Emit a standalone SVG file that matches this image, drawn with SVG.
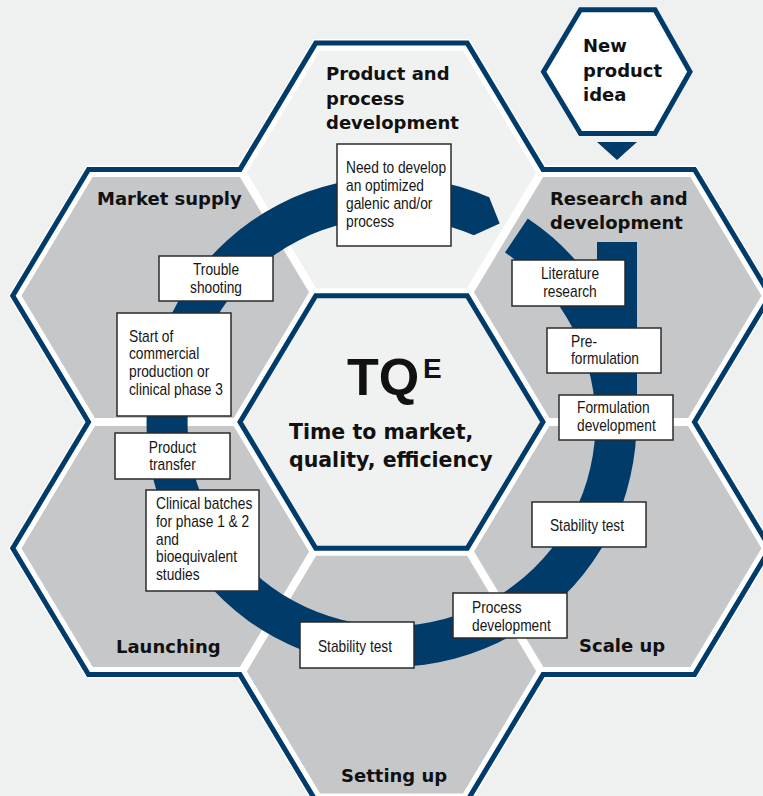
<svg xmlns="http://www.w3.org/2000/svg" width="763" height="796" viewBox="0 0 763 796">
<style>
.grey{fill:#c6c7c9;stroke:#fff;stroke-width:8;stroke-linejoin:miter}
.light{fill:#f0f1f1;stroke:#fff;stroke-width:8;stroke-linejoin:miter}
.ttl{font-family:"DejaVu Sans","Liberation Sans",sans-serif;font-weight:bold;font-size:18px;fill:#111}
.ctr{font-family:"DejaVu Sans","Liberation Sans",sans-serif;font-weight:bold;font-size:20.5px;fill:#111}
.tq{font-family:"Liberation Sans",Arial,sans-serif;font-weight:bold;fill:#111}
.box{fill:#fff;stroke:#2b2b2b;stroke-width:1.5}
.bt{font-family:"Liberation Sans",Arial,sans-serif;font-size:16px;fill:#161616}
.navy{fill:#003b6a}
</style>
<defs>
<clipPath id="clipS"><path d="M315.75,43.1 L467.25,43.1 L543,169.4 L694.5,169.4 L770.25,295.7 L694.5,422 L770.25,548.3 L694.5,674.6 L543,674.6 L467.25,800.9 L315.75,800.9 L240,674.6 L88.5,674.6 L12.75,548.3 L88.5,422 L12.75,295.7 L88.5,169.4 L240,169.4 Z"/></clipPath>
</defs>
<rect x="0" y="0" width="763" height="796" fill="#eff0f0"/>
<path d="M315.75,43.1 L467.25,43.1 L543,169.4 L694.5,169.4 L770.25,295.7 L694.5,422 L770.25,548.3 L694.5,674.6 L543,674.6 L467.25,800.9 L315.75,800.9 L240,674.6 L88.5,674.6 L12.75,548.3 L88.5,422 L12.75,295.7 L88.5,169.4 L240,169.4 Z" fill="#fff"/>

<g id="hex-product-process">
<polygon class="light" points="240,169.4 315.75,43.1 467.25,43.1 543,169.4 467.25,295.7 315.75,295.7"/>
<text class="ttl" x="326" y="80">Product and</text>
<text class="ttl" x="326" y="104.5">process</text>
<text class="ttl" x="326" y="129">development</text>
</g>
<g id="hex-research">
<polygon class="grey" points="467.25,295.7 543,169.4 694.5,169.4 770.25,295.7 694.5,422 543,422"/>
<text class="ttl" x="550" y="205">Research and</text>
<text class="ttl" x="550" y="229">development</text>
</g>
<g id="hex-scale-up">
<polygon class="grey" points="467.25,548.3 543,422 694.5,422 770.25,548.3 694.5,674.6 543,674.6"/>
<text class="ttl" x="579" y="652">Scale up</text>
</g>
<g id="hex-setting-up">
<polygon class="grey" points="240,674.6 315.75,548.3 467.25,548.3 543,674.6 467.25,800.9 315.75,800.9"/>
<text class="ttl" x="341" y="782">Setting up</text>
</g>
<g id="hex-launching">
<polygon class="grey" points="12.75,548.3 88.5,422 240,422 315.75,548.3 240,674.6 88.5,674.6"/>
<text class="ttl" x="116" y="652.5">Launching</text>
</g>
<g id="hex-market-supply">
<polygon class="grey" points="12.75,295.7 88.5,169.4 240,169.4 315.75,295.7 240,422 88.5,422"/>
<text class="ttl" x="97" y="205">Market supply</text>
</g>

<g id="frame">
<path d="M315.75,43.1 L467.25,43.1 L543,169.4 L694.5,169.4 L770.25,295.7 L694.5,422 L770.25,548.3 L694.5,674.6 L543,674.6 L467.25,800.9 L315.75,800.9 L240,674.6 L88.5,674.6 L12.75,548.3 L88.5,422 L12.75,295.7 L88.5,169.4 L240,169.4 Z" fill="none" stroke="#fff" stroke-width="15" clip-path="url(#clipS)"/>
<path d="M315.75,43.1 L467.25,43.1 L543,169.4 L694.5,169.4 L770.25,295.7 L694.5,422 L770.25,548.3 L694.5,674.6 L543,674.6 L467.25,800.9 L315.75,800.9 L240,674.6 L88.5,674.6 L12.75,548.3 L88.5,422 L12.75,295.7 L88.5,169.4 L240,169.4 Z" fill="none" stroke="#003b6a" stroke-width="5"/>
</g>

<g id="hex-center">
<polygon points="240,422 315.75,295.7 467.25,295.7 543,422 467.25,548.3 315.75,548.3" fill="none" stroke="#fff" stroke-width="15"/>
<polygon points="240,422 315.75,295.7 467.25,295.7 543,422 467.25,548.3 315.75,548.3" fill="#f0f1f1" stroke="#003b6a" stroke-width="5"/>
<text class="tq" x="347" y="395" font-size="52">TQ</text>
<text class="tq" x="423" y="378" font-size="28">E</text>
<text class="ctr" x="289" y="439">Time to market,</text>
<text class="ctr" x="289" y="466.5">quality, efficiency</text>
</g>

<g id="new-product-idea">
<polygon points="543.5,71.7 580.5,9.8 655,9.8 690,71.7 655,133.5 580.5,133.5" fill="#fff" stroke="#003b6a" stroke-width="5"/>
<text class="ttl" x="583" y="52">New</text>
<text class="ttl" x="583" y="76.5">product</text>
<text class="ttl" x="583" y="101">idea</text>
</g>

<g id="connectors">
<polygon class="navy" points="597,142 637,142 617,160"/>
<rect class="navy" x="597" y="242" width="40" height="182"/>
<path class="navy" d="M527.79,218.4 A245,245 0 1 1 489.19,197.32 L499.68,223.58 L473.82,235.35 A204,204 0 1 0 504.99,252.47 Z"/>
</g>

<g id="box-need">
<rect class="box" x="337" y="144" width="114" height="102"/>
<text class="bt" transform="translate(346,173.3) scale(0.86,1)"><tspan x="0">Need to develop</tspan><tspan x="0" dy="17.8">an optimized</tspan><tspan x="0" dy="17.8">galenic and/or</tspan><tspan x="0" dy="17.8">process</tspan></text>
</g>
<g id="box-trouble">
<rect class="box" x="159" y="256" width="114" height="45"/>
<text class="bt" text-anchor="middle" transform="translate(216,275) scale(0.86,1)"><tspan x="0">Trouble</tspan><tspan x="0" dy="18">shooting</tspan></text>
</g>
<g id="box-start">
<rect class="box" x="117" y="313" width="114" height="103"/>
<text class="bt" transform="translate(129,341.7) scale(0.86,1)"><tspan x="0">Start of</tspan><tspan x="0" dy="17.8">commercial</tspan><tspan x="0" dy="17.8">production or</tspan><tspan x="0" dy="17.8">clinical phase 3</tspan></text>
</g>
<g id="box-transfer">
<rect class="box" x="115" y="433" width="115" height="46"/>
<text class="bt" text-anchor="middle" transform="translate(172.5,452.7) scale(0.86,1)"><tspan x="0">Product</tspan><tspan x="0" dy="17.8">transfer</tspan></text>
</g>
<g id="box-clinical">
<rect class="box" x="146" y="490" width="113" height="101"/>
<text class="bt" transform="translate(156,509) scale(0.86,1)"><tspan x="0">Clinical batches</tspan><tspan x="0" dy="17.8">for phase 1 &amp; 2</tspan><tspan x="0" dy="17.8">and</tspan><tspan x="0" dy="17.8">bioequivalent</tspan><tspan x="0" dy="17.8">studies</tspan></text>
</g>
<g id="box-literature">
<rect class="box" x="512" y="260" width="113" height="46"/>
<text class="bt" text-anchor="middle" transform="translate(570,279.3) scale(0.86,1)"><tspan x="0">Literature</tspan><tspan x="0" dy="18">research</tspan></text>
</g>
<g id="box-preformulation">
<rect class="box" x="547" y="328" width="114" height="45"/>
<text class="bt" transform="translate(571,346.7) scale(0.86,1)"><tspan x="0">Pre-</tspan><tspan x="0" dy="17.8">formulation</tspan></text>
</g>
<g id="box-formulation">
<rect class="box" x="559" y="395" width="114" height="45"/>
<text class="bt" transform="translate(577,413.3) scale(0.86,1)"><tspan x="0">Formulation</tspan><tspan x="0" dy="17.8">development</tspan></text>
</g>
<g id="box-stability-1">
<rect class="box" x="532" y="502" width="114" height="45"/>
<text class="bt" text-anchor="middle" transform="translate(587,530.7) scale(0.86,1)">Stability test</text>
</g>
<g id="box-process">
<rect class="box" x="453" y="593" width="114" height="45"/>
<text class="bt" transform="translate(472,613.3) scale(0.86,1)"><tspan x="0">Process</tspan><tspan x="0" dy="17.8">development</tspan></text>
</g>
<g id="box-stability-2">
<rect class="box" x="300" y="622" width="114" height="46"/>
<text class="bt" text-anchor="middle" transform="translate(355,652.3) scale(0.86,1)">Stability test</text>
</g>
</svg>
